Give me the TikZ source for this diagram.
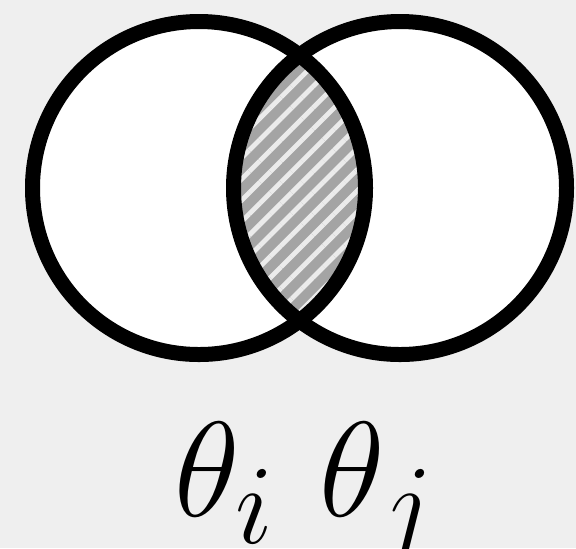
\documentclass[tikz,border=0pt]{standalone}
\usepackage{tikz}
\usetikzlibrary{patterns.meta}
\definecolor{colBack}{HTML}{EFEFEF}
\definecolor{colHatch}{HTML}{A4A4A4}
\tikzset{
  %% set circle
  setcirc/.style={draw=black, line width=7.5pt},
  %% overlap region
  overlap/.style={fill=colHatch,
    postaction={pattern={Lines[angle=45,distance=7.5pt,line width=2.4pt]},
                pattern color=white!92!black}},
  %% labels
  setlabel/.style={inner sep=0pt, font=\Huge, scale=2.72}
}
\begin{document}
\begin{tikzpicture}[x=0.5pt, y=-0.5pt]
% background / bounding box
\fill[colBack] (0,0) rectangle (576,548);
\useasboundingbox (0,0) rectangle (576,548);

% centres of the two sets
\coordinate (ci) at (199,188);
\coordinate (cj) at (400,188);

% white discs
\fill[white] (ci) circle[radius=166.5];
\fill[white] (cj) circle[radius=166.5];

% hatched intersection
\begin{scope}
  \clip (ci) circle[radius=166.5];
  \fill[overlap] (cj) circle[radius=166.5];
\end{scope}

% outlines
\draw[setcirc] (ci) circle[radius=166.5];
\draw[setcirc] (cj) circle[radius=166.5];

% labels
\node[setlabel, anchor=base west] (labI) at (173,516) {$\theta_i$};
\node[setlabel, anchor=base west] (labJ) at (318,516) {$\theta_j$};
\end{tikzpicture}
\end{document}
